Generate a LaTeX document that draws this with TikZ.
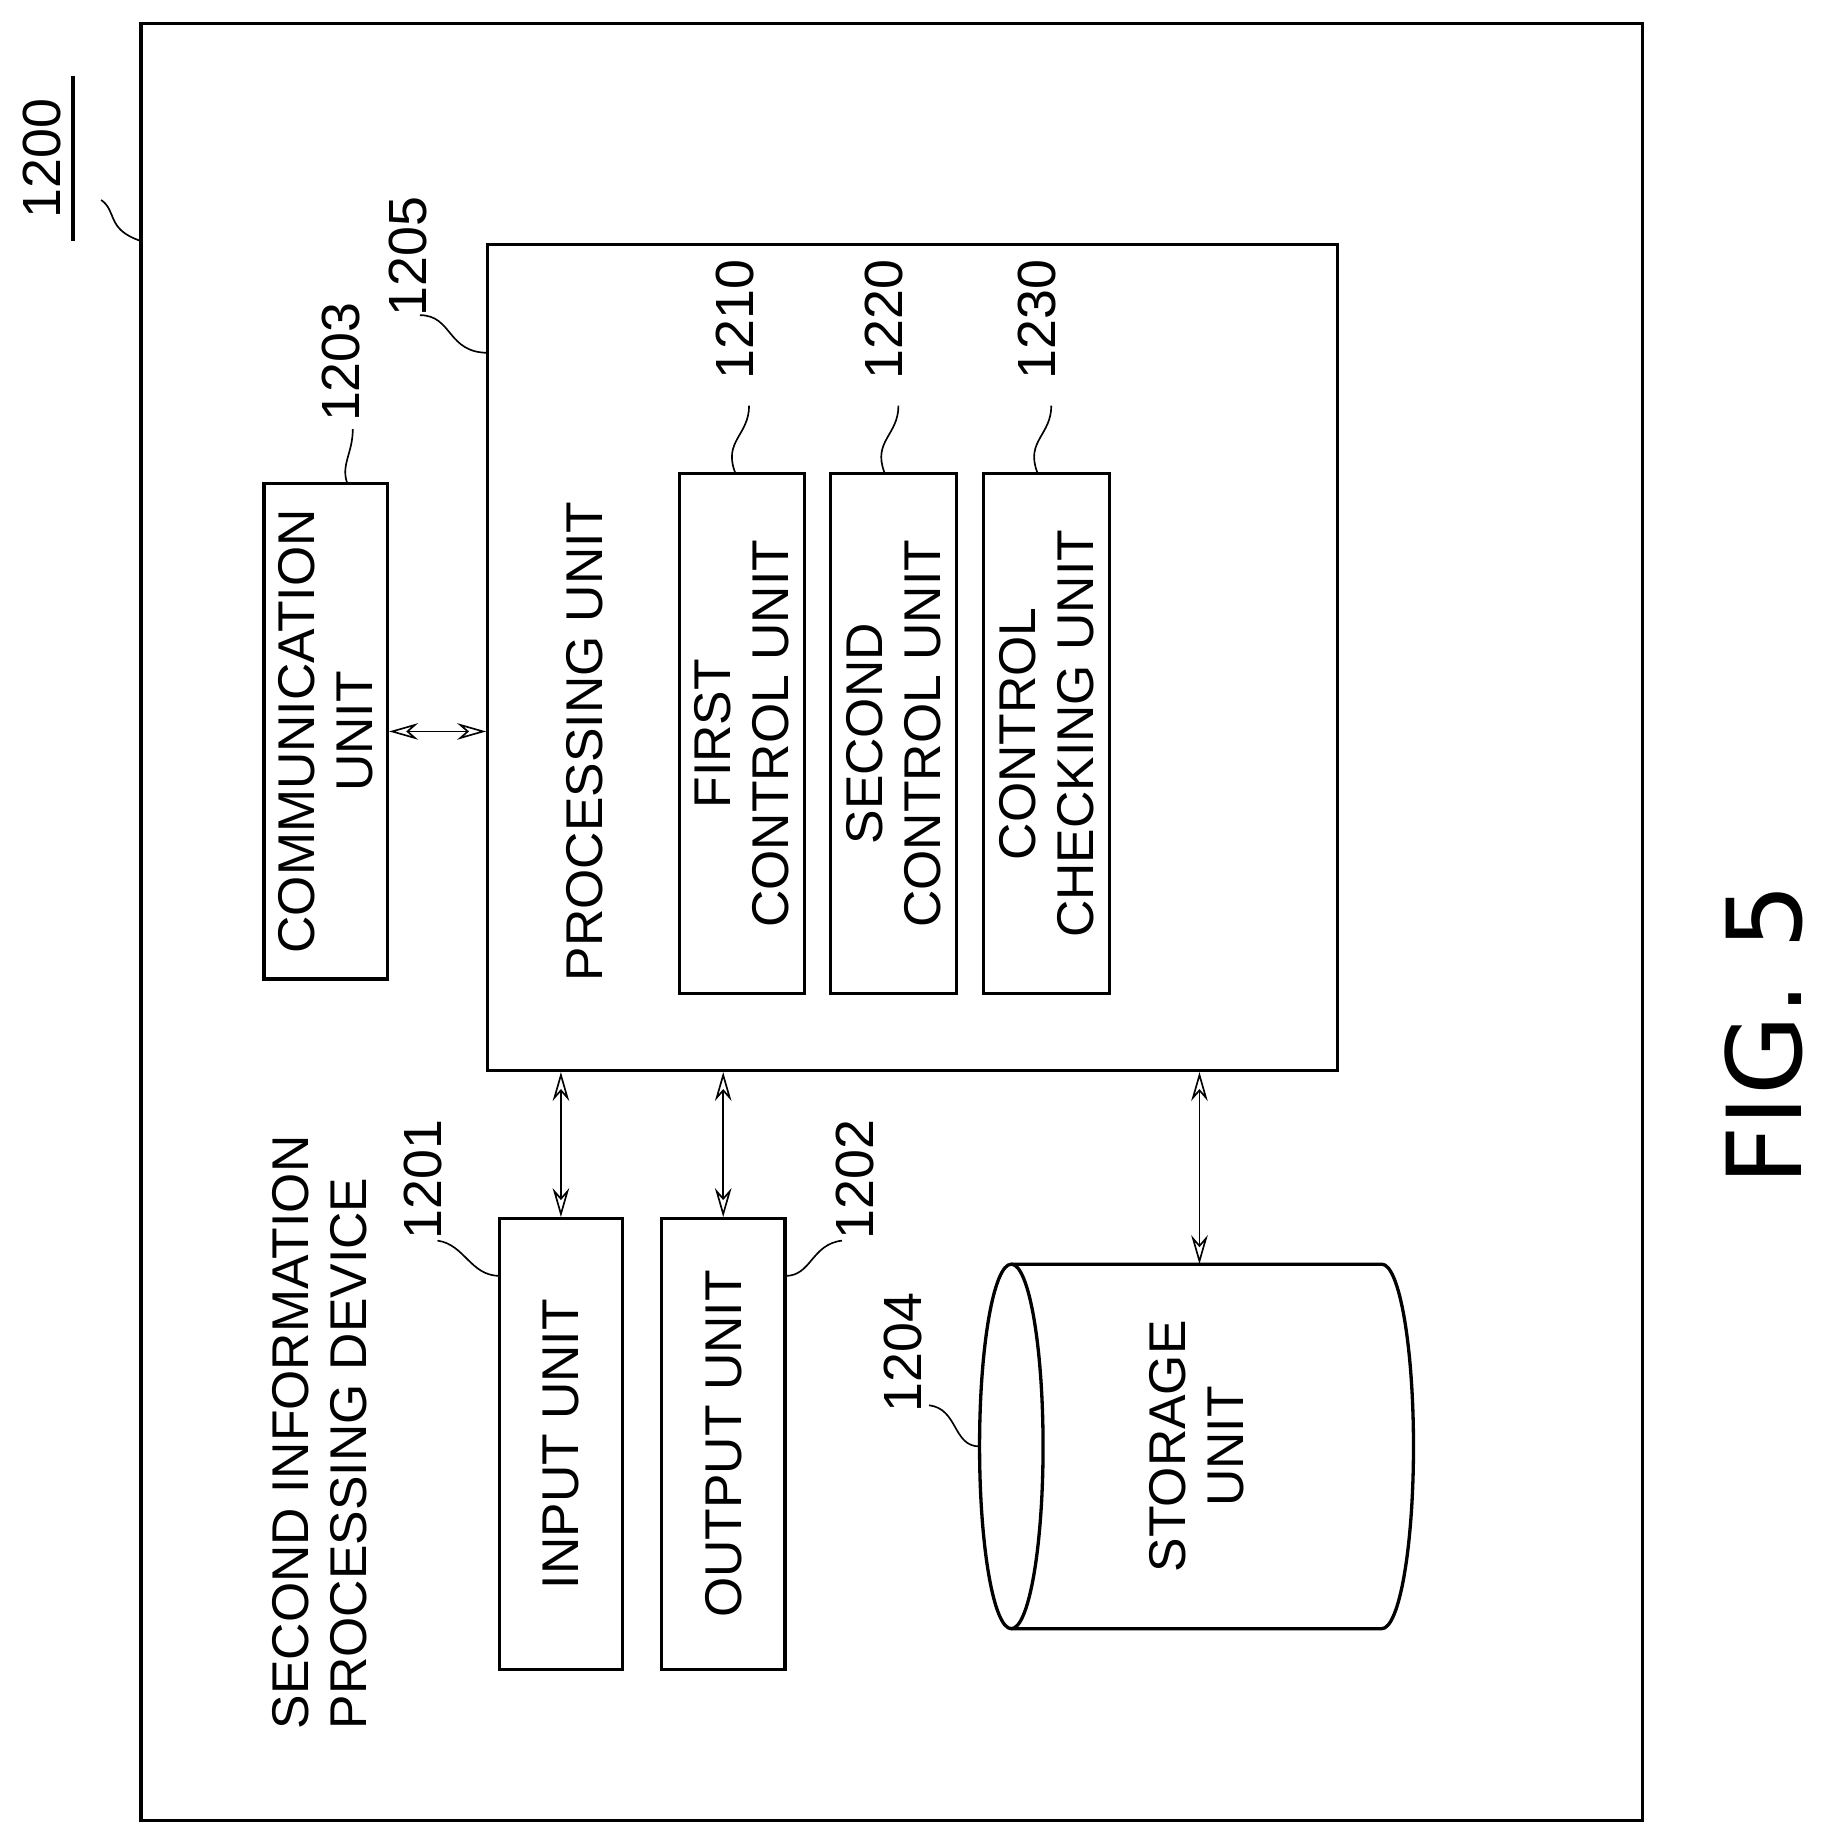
\documentclass[tikz,border=0pt]{standalone}
\usepackage{fontspec}
\setmainfont{Liberation Sans}
\newfontfamily\figfont{DejaVu Sans}
\usetikzlibrary{arrows.meta}
\begin{document}
\begin{tikzpicture}[x=0.01cm,y=-0.01cm,
    unit/.style={draw,thick,rotate=90,align=center,inner sep=0pt,
      font=\fontsize{12.5}{14}\selectfont},
    txt/.style={rotate=90,align=left,inner sep=0pt,
      font=\fontsize{12.5}{14}\selectfont},
    refnum/.style={rotate=90,inner sep=1pt,font=\fontsize{13}{15}\selectfont},
    link/.style={{Stealth[length=7pt,width=4pt,open]}-{Stealth[length=7pt,width=4pt,open]}},
    leader/.style={thin}
  ]
  \useasboundingbox (0,0) rectangle (1552,1563);
  % device frame
  \draw[thick] (120,20) rectangle (1397,1548);
  \node[refnum] (n1200) at (36,135) {1200};
  \draw[thick] (62,65) -- (62,205);
  \draw[leader] (86,170) .. controls (100,180) and (90,195) .. (120,205);
  \node[txt] (title) at (272,1218) {SECOND INFORMATION\\PROCESSING DEVICE};
  % processing unit
  \node[draw,thick,minimum width=7.22cm,minimum height=7.02cm,inner sep=0pt] (proc) at (776,559) {};
  \node[txt,anchor=west] (proclabel) at (497,835) {PROCESSING UNIT};
  \node[refnum] (n1205) at (347,218) {1205};
  \draw[leader] (357,268) .. controls (385,268) and (380,300) .. (415,300);
  % sub units
  \node[unit,minimum width=4.42cm,minimum height=1.06cm] (first) at (631,624) {FIRST\\CONTROL UNIT};
  \node[unit,minimum width=4.42cm,minimum height=1.07cm] (second) at (760,624) {SECOND\\CONTROL UNIT};
  \node[unit,minimum width=4.42cm,minimum height=1.07cm] (check) at (890,624) {CONTROL\\CHECKING UNIT};
  \node[refnum] (n1210) at (625,272) {1210};
  \node[refnum] (n1220) at (752,272) {1220};
  \node[refnum] (n1230) at (882,272) {1230};
  \foreach \u/\x in {first/625,second/752,check/882}{
    \draw[leader] (\x+12,345) .. controls (\x+12,370) and (\x-10,375) .. (\u.east -| \x,0);
  }
  % communication unit
  \node[unit,minimum width=4.21cm,minimum height=1.05cm] (comm) at (277,622) {COMMUNICATION\\UNIT};
  \node[refnum] (n1203) at (290,308) {1203};
  \draw[leader] (300,365) .. controls (300,385) and (290,395) .. (comm.east -| 295,0);
  \draw[link] (comm.south) -- (comm.south -| proc.west);
  % input and output units
  \node[unit,minimum width=3.83cm,minimum height=1.05cm] (input) at (477,1228) {INPUT UNIT};
  \node[unit,minimum width=3.83cm,minimum height=1.05cm] (output) at (615,1228) {OUTPUT UNIT};
  \node[refnum] (n1201) at (360,1003) {1201};
  \draw[leader] (372,1055) .. controls (395,1058) and (400,1085) .. (425,1085);
  \node[refnum] (n1202) at (727,1003) {1202};
  \draw[leader] (716,1055) .. controls (690,1058) and (690,1085) .. (668,1085);
  \draw[link] (proc.south -| input.east) -- (input.east);
  \draw[link] (proc.south -| output.east) -- (output.east);
  % storage unit
  \draw[thick] (860,1230) ellipse [x radius=27, y radius=155];
  \draw[thick] (860,1075) -- (1175,1075) arc [start angle=-90, end angle=90, x radius=27, y radius=155]
    -- (860,1385);
  \coordinate (store) at (1020,1075);
  \node[txt,align=center] (storelabel) at (1018,1230) {STORAGE\\UNIT};
  \node[refnum] (n1204) at (768,1150) {1204};
  \draw[leader] (790,1195) .. controls (815,1198) and (810,1230) .. (833,1230);
  \draw[link] (proc.south -| store) -- (store);
  % figure caption
  \node[rotate=90,inner sep=0pt,font=\figfont\fontsize{25}{28}\selectfont] (fig) at (1500,880) {FIG. 5};
\end{tikzpicture}
\end{document}
